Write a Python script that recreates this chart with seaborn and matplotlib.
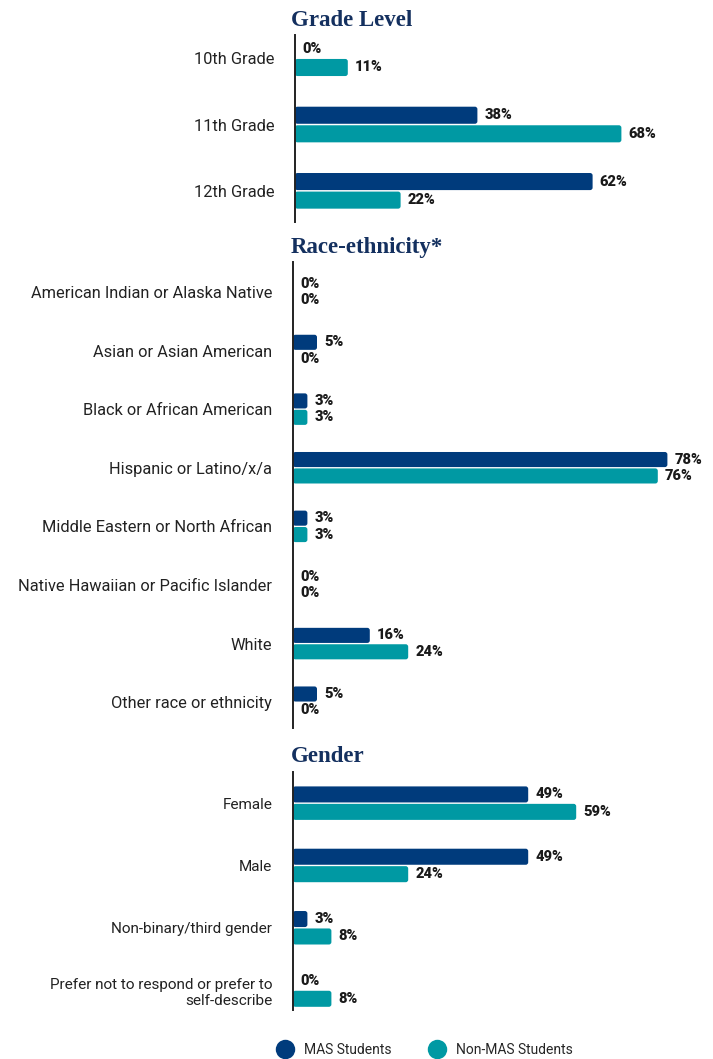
import pandas as pd
import seaborn as sns
import matplotlib.pyplot as plt
from matplotlib.lines import Line2D
from matplotlib.patches import FancyBboxPatch

# 数据
groups = ["MAS Students", "Non-MAS Students"]
grade_cats = ["10th Grade", "11th Grade", "12th Grade"]
grade_mas = [0, 38, 62]
grade_non = [11, 68, 22]

race_cats = ["American Indian or Alaska Native", "Asian or Asian American",
             "Black or African American", "Hispanic or Latino/x/a",
             "Middle Eastern or North African", "Native Hawaiian or Pacific Islander",
             "White", "Other race or ethnicity"]
race_mas = [0, 5, 3, 78, 3, 0, 16, 5]
race_non = [0, 0, 3, 76, 3, 0, 24, 0]

gender_cats = ["Female", "Male", "Non-binary/third gender",
               "Prefer not to respond or prefer to\nself-describe"]
gender_mas = [49, 49, 3, 0]
gender_non = [59, 24, 8, 8]

navy = "#003b7c"
teal = "#0099a3"
title_color = "#14305f"

W, H = 713, 1059
PX_PER_PCT = 4.8
sns.set_theme(style="white")
plt.rcParams['font.family'] = ['Roboto', 'DejaVu Sans']

fig = plt.figure(figsize=(W / 100, H / 100), dpi=100)


def make_df(cats, mas, non):
    return pd.DataFrame({
        "cat": cats * 2,
        "val": mas + non,
        "grp": [groups[0]] * len(cats) + [groups[1]] * len(cats),
    })


def round_bars(ax, px_per_y):
    """ 把方角的条换成圆角 """
    rx = 2.5 / PX_PER_PCT
    ry = 2.5 / px_per_y
    for cont in ax.containers:
        for p in cont.patches:
            w = p.get_width()
            if w <= 0:
                continue
            x, y, h = p.get_x(), p.get_y(), p.get_height()
            box = FancyBboxPatch((x, y), w, h,
                                 boxstyle="round,pad=0,rounding_size=%f" % rx,
                                 mutation_aspect=ry / rx,
                                 facecolor=p.get_facecolor(), edgecolor="none")
            p.set_visible(False)
            ax.add_patch(box)


def panel(left, top, bottom, cats, mas, non, pad_top, pad_bot, title, title_y, label_size):
    ax = fig.add_axes([left / W, 1 - bottom / H, (705 - left) / W, (bottom - top) / H])
    df = make_df(cats, mas, non)
    sns.barplot(data=df, y="cat", x="val", hue="grp", orient="h", ax=ax,
                palette=[navy, teal], width=0.56, gap=0.08, legend=False,
                saturation=1, edgecolor="none")
    for cont in ax.containers:
        ax.bar_label(cont, fmt="%g%%", padding=5, fontsize=10.5,
                     fontweight="heavy", color="#1a1a1a")
    ax.set_xlim(0, (705 - left) / PX_PER_PCT)
    ax.set_ylim(len(cats) - 1 + pad_bot, -pad_top)
    ax.set_xlabel("")
    ax.set_ylabel("")
    ax.set_xticks([])
    ax.tick_params(axis="y", length=0, pad=15, labelsize=label_size, labelcolor="#222222")
    for s in ["top", "right", "bottom"]:
        ax.spines[s].set_visible(False)
    ax.spines["left"].set_color("#222222")
    ax.spines["left"].set_linewidth(1.4)
    px_per_y = (bottom - top) / (len(cats) - 1 + pad_top + pad_bot)
    round_bars(ax, px_per_y)
    fig.text(291 / W, 1 - title_y / H, title, fontsize=16.5, fontweight="bold",
             color=title_color, family="Liberation Serif", va="center", ha="left")
    return ax


panel(295, 35, 222, grade_cats, grade_mas, grade_non, 0.35, 0.47, "Grade Level", 20, 11.8)
panel(293, 262, 728, race_cats, race_mas, race_non, 0.51, 0.44, "Race-ethnicity*", 247, 11.8)
panel(293, 772, 1010, gender_cats, gender_mas, gender_non, 0.5, 0.32, "Gender", 757, 11)

handles = [Line2D([], [], marker="o", linestyle="none", markersize=14,
                  markerfacecolor=c, markeredgecolor="none") for c in [navy, teal]]
fig.legend(handles, groups, loc="center", bbox_to_anchor=(422 / W, 1 - 1050 / H),
           ncol=2, frameon=False, fontsize=10, handletextpad=0.4, columnspacing=2.2)

fig.savefig("out.png", dpi=100)
